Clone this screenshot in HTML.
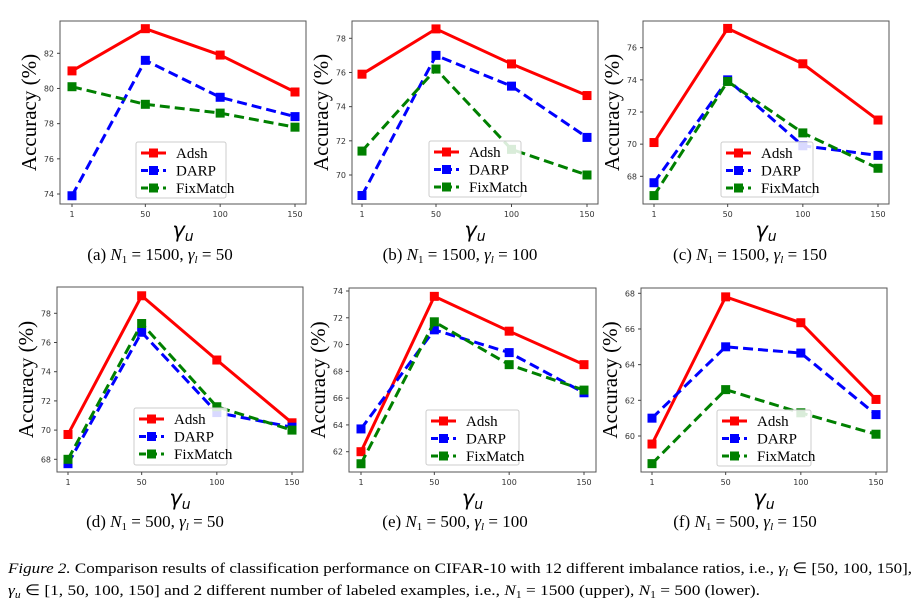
<!DOCTYPE html>
<html><head><meta charset="utf-8"><style>
html,body{margin:0;padding:0;background:#fff;width:919px;height:604px;overflow:hidden}
svg{display:block}
</style></head><body>
<svg id="fig" width="919" height="604" xmlns="http://www.w3.org/2000/svg" font-family="Liberation Serif, serif">
<text x="8" y="573" font-size="15" textLength="904" lengthAdjust="spacingAndGlyphs"><tspan font-style="italic">Figure 2.</tspan> Comparison results of classification performance on CIFAR-10 with 12 different imbalance ratios, i.e., <tspan font-style="italic">γ</tspan><tspan font-size="10" font-style="italic" dy="3">l</tspan><tspan dy="-3"> ∈ [50, 100, 150],</tspan></text>
<text x="8" y="595" font-size="15" textLength="752" lengthAdjust="spacingAndGlyphs"><tspan font-style="italic">γ</tspan><tspan font-size="10" font-style="italic" dy="3">u</tspan><tspan dy="-3"> ∈ [1, 50, 100, 150] and 2 different number of labeled examples, i.e., </tspan><tspan font-style="italic">N</tspan><tspan font-size="10" dy="3">1</tspan><tspan dy="-3"> = 1500 (upper), </tspan><tspan font-style="italic">N</tspan><tspan font-size="10" dy="3">1</tspan><tspan dy="-3"> = 500 (lower).</tspan></text>
</svg>
<script>
// shared data
const categories = [1, 50, 100, 150];
const seriesNames = ["Adsh", "DARP", "FixMatch"];
// panel a
const adshA = [81.0, 83.4, 81.9, 79.8];
const darpA = [73.9, 81.6, 79.5, 78.4];
const fixA = [80.1, 79.1, 78.6, 77.8];
const ticksA = [74, 76, 78, 80, 82];
// panel b
const adshB = [75.9, 78.55, 76.5, 74.65];
const darpB = [68.8, 77.0, 75.2, 72.2];
const fixB = [71.4, 76.2, 71.5, 70.0];
const ticksB = [70, 72, 74, 76, 78];
// panel c
const adshC = [70.1, 77.2, 75.0, 71.5];
const darpC = [67.6, 74.0, 69.9, 69.3];
const fixC = [66.8, 73.9, 70.7, 68.5];
const ticksC = [68, 70, 72, 74, 76];
// panel d
const adshD = [69.7, 79.2, 74.8, 70.5];
const darpD = [67.7, 76.7, 71.2, 70.2];
const fixD = [68.0, 77.3, 71.6, 70.0];
const ticksD = [68, 70, 72, 74, 76, 78];
// panel e
const adshE = [62.0, 73.6, 71.0, 68.5];
const darpE = [63.7, 71.1, 69.4, 66.4];
const fixE = [61.1, 71.7, 68.5, 66.6];
const ticksE = [62, 64, 66, 68, 70, 72, 74];
// panel f
const adshF = [59.55, 67.8, 66.35, 62.05];
const darpF = [61.0, 65.0, 64.65, 61.2];
const fixF = [58.45, 62.6, 61.3, 60.1];
const ticksF = [60, 62, 64, 66, 68];

const NS = "http://www.w3.org/2000/svg";
const svg = document.getElementById("fig");
function mk(tag, attrs, parent){const e=document.createElementNS(NS,tag);for(const k in attrs)e.setAttribute(k,attrs[k]);(parent||svg).appendChild(e);return e;}

const panels = [
 {id:"a",series:[adshA,darpA,fixA],ticks:ticksA,box:[60,21,306,204],x1:72,x150:295,ya:[82,53.3],yb:[74,194],leg:[136,142,226,198],cap:"(a)",n:"1500",g:"50",cx:160,cy:260},
 {id:"b",series:[adshB,darpB,fixB],ticks:ticksB,box:[352,21,598,204],x1:362,x150:587,ya:[78,38.3],yb:[70,175],leg:[429,141,521,197],cap:"(b)",n:"1500",g:"100",cx:460,cy:260},
 {id:"c",series:[adshC,darpC,fixC],ticks:ticksC,box:[643,21,889,204],x1:654,x150:878,ya:[76,47.7],yb:[68,176.3],leg:[721,142,813,197],cap:"(c)",n:"1500",g:"150",cx:750,cy:260},
 {id:"d",series:[adshD,darpD,fixD],ticks:ticksD,box:[57,287,303,472],x1:68,x150:292,ya:[78,313.3],yb:[68,459.3],leg:[134,408,227,465],cap:"(d)",n:"500",g:"50",cx:155,cy:527},
 {id:"e",series:[adshE,darpE,fixE],ticks:ticksE,box:[349,288,596,472],x1:361,x150:584,ya:[74,291],yb:[62,451.7],leg:[426,410,519,465],cap:"(e)",n:"500",g:"100",cx:455,cy:527},
 {id:"f",series:[adshF,darpF,fixF],ticks:ticksF,box:[641,288,887,472],x1:652,x150:876,ya:[68,293.3],yb:[60,436],leg:[717,410,811,466],cap:"(f)",n:"500",g:"150",cx:745,cy:527}
];
const colors=["#ff0000","#0000ff","#008000"];
const dashes=["none","10,5","10,5"];

panels.forEach(p=>{
 const g=mk("g",{});
 
 
 const xs=v=>p.x1+(v-1)/(149)*(p.x150-p.x1);
 const ys=v=>p.ya[1]+(v-p.ya[0])/(p.yb[0]-p.ya[0])*(p.yb[1]-p.ya[1]);
 const [L,T,R,B]=p.box;
 const frame=mk("rect",{x:L,y:T,width:R-L,height:B-T,fill:"#fff",stroke:"#555","stroke-width":1},g);
 
 
 p.ticks.forEach(t=>{
  const y=ys(t);
  mk("line",{x1:L-3,x2:L,y1:y,y2:y,stroke:"#444"},g);
  const tx=mk("text",{x:L-6,y:y+3,"font-size":8,"text-anchor":"end",fill:"#333","font-family":"DejaVu Sans, sans-serif"},g);
  tx.textContent=t;
  
  
 });
 categories.forEach(c=>{
  const x=xs(c);
  mk("line",{x1:x,x2:x,y1:B,y2:B+3,stroke:"#444"},g);
  const tx=mk("text",{x:x,y:B+13,"font-size":8,"text-anchor":"middle",fill:"#333","font-family":"DejaVu Sans, sans-serif"},g);
  tx.textContent=c;
  
  
 });
 const yl=mk("text",{x:0,y:0,"font-size":21,"text-anchor":"middle",fill:"#000",transform:`translate(${L-24},${(T+B)/2}) rotate(-90)`},g);
 yl.textContent="Accuracy (%)";
 
 
 const xl=mk("text",{x:(L+R)/2,y:B+33,"font-size":21,"text-anchor":"middle","font-style":"italic","font-family":"DejaVu Sans, sans-serif"},g);
 xl.innerHTML='γ<tspan font-size="14" dy="4">u</tspan>';
 
 
 p.series.forEach((s,i)=>{
  const pts=s.map((v,j)=>xs(categories[j])+","+ys(v)).join(" ");
  const pl=mk("polyline",{points:pts,fill:"none",stroke:colors[i],"stroke-width":3,"stroke-dasharray":dashes[i]},g);
  
  
  s.forEach((v,j)=>{
   const m=mk("rect",{x:xs(categories[j])-4.5,y:ys(v)-4.5,width:9,height:9,fill:colors[i]},g);
   
   
  });
 });
 const [lx,ly,lr,lb]=p.leg;
 const lg=mk("g",{},g);
 
 
 mk("rect",{x:lx,y:ly,width:lr-lx,height:lb-ly,fill:"#fff","fill-opacity":0.85,stroke:"#ccc",rx:2},lg);
 seriesNames.forEach((n,i)=>{
  const yy=ly+11+i*17.5;
  mk("line",{x1:lx+5,x2:lx+30,y1:yy,y2:yy,stroke:colors[i],"stroke-width":3,"stroke-dasharray":dashes[i]=="none"?"none":"7,4"},lg);
  mk("rect",{x:lx+13,y:yy-4.5,width:9,height:9,fill:colors[i]},lg);
  const t=mk("text",{x:lx+40,y:yy+5,"font-size":15},lg);
  t.textContent=n;
  
  
 });
 const cap=mk("text",{x:p.cx,y:p.cy,"font-size":17,"text-anchor":"middle"},g);
 cap.innerHTML=`${p.cap} <tspan font-style="italic">N</tspan><tspan font-size="11" dy="3">1</tspan><tspan dy="-3"> = ${p.n}, </tspan><tspan font-style="italic">γ</tspan><tspan font-size="11" font-style="italic" dy="3">l</tspan><tspan dy="-3"> = ${p.g}</tspan>`;
 
 
});
</script>
</body></html>
